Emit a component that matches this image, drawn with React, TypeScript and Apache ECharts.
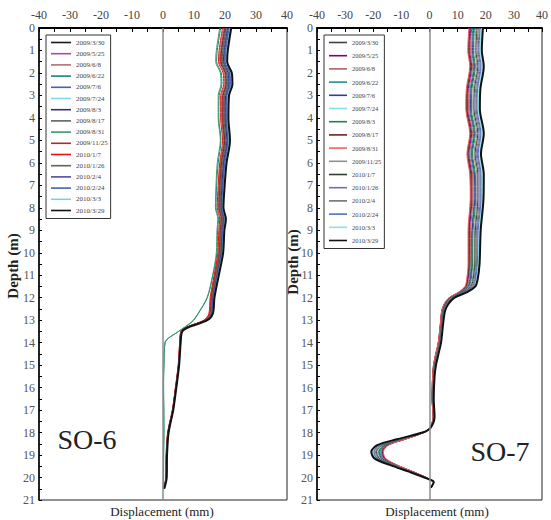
import React, { useEffect, useRef } from "react";
import * as echarts from "echarts";

// Survey dates (one profile per date, same dates for both boreholes)
const surveyDates = [
  "2009/3/30", "2009/5/25", "2009/6/8", "2009/6/22", "2009/7/6", "2009/7/24",
  "2009/8/3", "2009/8/17", "2009/8/31", "2009/11/25", "2010/1/7", "2010/1/26",
  "2010/2/4", "2010/2/24", "2010/3/3", "2010/3/29",
];

// ---- SO-6 inclinometer ----
const so6Depths = [0, 1, 1.5, 2, 2.5, 3, 4, 5, 6, 7, 8, 8.5, 9, 10, 11, 12, 12.7, 13.0, 13.3, 13.5, 14, 15, 16, 17, 18, 19, 20, 20.5];

// displacement (mm) at each depth of so6Depths, one row per survey date
const so6Displacement = [
  [20.0, 18.9, 18.7, 20.2, 20.4, 19.4, 19.3, 19.9, 18.9, 18.4, 18.1, 18.9, 18.5, 18.2, 16.9, 15.6, 15.2, 13.5, 7.9, 5.9, 5.5, 5.0, 4.1, 3.1, 1.6, 1.1, 1.0, 0.2],
  [20.5, 19.4, 19.2, 20.7, 20.9, 19.9, 19.8, 20.3, 19.3, 18.8, 18.5, 19.3, 18.8, 18.5, 17.2, 15.9, 15.4, 13.7, 8.1, 6.0, 5.5, 5.1, 4.2, 3.2, 1.7, 1.2, 1.1, 0.3],
  [19.5, 18.4, 18.2, 19.7, 19.9, 18.9, 18.9, 19.5, 18.5, 18.0, 17.8, 18.6, 18.2, 17.9, 16.6, 15.4, 15.0, 13.3, 7.8, 5.8, 5.4, 4.9, 4.0, 3.0, 1.5, 1.0, 0.9, 0.2],
  [18.6, 17.5, 17.3, 18.8, 19.0, 18.1, 18.0, 18.7, 17.8, 17.3, 17.1, 17.9, 17.6, 17.4, 16.1, 14.3, 11.4, 9.9, 7.2, 5.0, 0.7, 0.3, 0.2, 0.3, 0.3, 0.2, 0.2, 0.1],
  [21.0, 19.9, 19.7, 21.2, 21.4, 20.4, 20.2, 20.8, 19.7, 19.2, 18.8, 19.6, 19.2, 18.8, 17.5, 16.1, 15.7, 13.9, 8.2, 6.1, 5.6, 5.1, 4.2, 3.2, 1.7, 1.2, 1.1, 0.3],
  [21.5, 20.4, 20.2, 21.7, 21.9, 20.8, 20.7, 21.2, 20.1, 19.5, 19.2, 20.0, 19.5, 19.1, 17.7, 16.4, 15.9, 14.1, 8.4, 6.1, 5.6, 5.2, 4.3, 3.3, 1.8, 1.3, 1.2, 0.4],
  [20.8, 19.7, 19.5, 21.0, 21.2, 20.2, 20.0, 20.6, 19.5, 19.0, 18.7, 19.5, 19.0, 18.7, 17.3, 16.0, 15.6, 13.8, 8.1, 6.0, 5.6, 5.1, 4.2, 3.2, 1.7, 1.2, 1.1, 0.3],
  [20.2, 19.1, 18.9, 20.4, 20.6, 19.6, 19.5, 20.1, 19.1, 18.6, 18.2, 19.0, 18.6, 18.3, 17.0, 15.7, 15.3, 13.6, 8.0, 5.9, 5.5, 5.0, 4.1, 3.1, 1.6, 1.1, 1.0, 0.2],
  [18.3, 17.2, 17.0, 18.5, 18.7, 17.8, 17.8, 18.5, 17.5, 17.1, 16.9, 17.7, 17.4, 17.2, 16.0, 14.2, 11.3, 9.8, 7.1, 5.0, 0.6, 0.3, 0.1, 0.2, 0.3, 0.2, 0.1, 0.1],
  [19.8, 18.7, 18.5, 20.0, 20.2, 19.2, 19.1, 19.7, 18.7, 18.2, 18.0, 18.8, 18.4, 18.1, 16.8, 15.5, 15.1, 13.4, 7.8, 5.9, 5.4, 5.0, 4.1, 3.1, 1.6, 1.1, 1.0, 0.2],
  [19.2, 18.1, 17.9, 19.4, 19.6, 18.6, 18.6, 19.2, 18.3, 17.8, 17.5, 18.3, 18.0, 17.7, 16.5, 15.2, 14.8, 13.2, 7.7, 5.8, 5.4, 4.9, 4.0, 3.0, 1.5, 1.0, 0.9, 0.2],
  [20.4, 19.3, 19.1, 20.6, 20.8, 19.8, 19.7, 20.2, 19.2, 18.7, 18.4, 19.2, 18.8, 18.4, 17.1, 15.8, 15.4, 13.7, 8.0, 6.0, 5.5, 5.0, 4.1, 3.1, 1.6, 1.1, 1.0, 0.2],
  [21.2, 20.1, 19.9, 21.4, 21.6, 20.5, 20.4, 20.9, 19.9, 19.3, 18.9, 19.7, 19.3, 18.9, 17.6, 16.2, 15.7, 14.0, 8.3, 6.1, 5.6, 5.1, 4.2, 3.2, 1.7, 1.2, 1.1, 0.3],
  [21.4, 20.3, 20.1, 21.6, 21.8, 20.7, 20.6, 21.1, 20.0, 19.5, 19.1, 19.9, 19.4, 19.0, 17.7, 16.3, 15.8, 14.1, 8.3, 6.1, 5.6, 5.1, 4.2, 3.2, 1.7, 1.2, 1.1, 0.3],
  [21.7, 20.6, 20.4, 21.9, 22.1, 21.0, 20.8, 21.3, 20.3, 19.7, 19.3, 20.1, 19.6, 19.2, 17.8, 16.5, 16.0, 14.2, 8.4, 6.2, 5.7, 5.2, 4.3, 3.3, 1.8, 1.3, 1.2, 0.4],
  [22.0, 20.9, 20.7, 22.2, 22.4, 21.3, 21.1, 21.6, 20.5, 19.9, 19.5, 20.3, 19.8, 19.4, 18.0, 16.6, 16.1, 14.3, 8.5, 6.2, 5.7, 5.2, 4.3, 3.3, 1.8, 1.3, 1.2, 0.4],
];

const so6Colors = [
  "#1a1a1a", "#a050a0", "#b07070", "#1a8078", "#4060c0", "#80d8f0",
  "#303080", "#606060", "#3a9a68", "#a03030", "#ee1010", "#5f6650",
  "#504c9c", "#4062b0", "#80d0d0", "#111111",
];

// ---- SO-7 inclinometer ----
const so7Depths = [0, 1, 1.7, 2.7, 3.6, 4.7, 5.6, 6.5, 7.6, 9, 10.5, 11.2, 11.5, 11.75, 12, 12.3, 12.6, 13.1, 14, 14.5, 15, 15.5, 16.5, 17.3, 17.8, 18.0, 18.3, 18.55, 18.85, 19.15, 19.45, 19.75, 20.05, 20.2, 20.45];

const so7Displacement = [
  [14.4, 14.0, 14.7, 13.5, 13.3, 14.7, 13.7, 14.7, 14.8, 14.1, 14.0, 13.5, 12.9, 10.6, 7.1, 5.2, 4.4, 4.0, 3.2, 2.3, 1.5, 1.1, 0.9, 1.3, 0.1, -2.0, -8.8, -14.7, -16.7, -15.9, -11.6, -5.7, -0.3, 1.5, 0.5],
  [14.7, 14.3, 15.0, 13.8, 13.6, 15.0, 14.0, 15.0, 15.1, 14.3, 14.3, 13.7, 13.1, 10.8, 7.2, 5.3, 4.4, 4.0, 3.2, 2.3, 1.5, 1.2, 1.0, 1.4, 0.1, -2.1, -9.0, -15.0, -17.0, -16.2, -11.8, -5.8, -0.4, 1.5, 0.5],
  [15.0, 14.6, 15.3, 14.1, 13.9, 15.3, 14.3, 15.3, 15.4, 14.6, 14.5, 14.0, 13.3, 11.0, 7.3, 5.4, 4.5, 4.1, 3.3, 2.4, 1.6, 1.2, 1.0, 1.4, 0.1, -2.1, -9.2, -15.2, -17.3, -16.4, -11.9, -5.9, -0.4, 1.5, 0.5],
  [15.4, 15.0, 15.7, 14.5, 14.3, 15.7, 14.7, 15.7, 15.8, 15.0, 14.8, 14.3, 13.6, 11.2, 7.5, 5.5, 4.6, 4.2, 3.4, 2.5, 1.7, 1.3, 1.1, 1.4, 0.1, -2.1, -9.4, -15.5, -17.6, -16.7, -12.1, -6.0, -0.4, 1.5, 0.5],
  [15.7, 15.3, 16.0, 14.8, 14.6, 16.0, 15.0, 16.0, 16.1, 15.2, 15.1, 14.5, 13.8, 11.4, 7.6, 5.6, 4.7, 4.2, 3.4, 2.5, 1.7, 1.3, 1.1, 1.5, 0.1, -2.2, -9.6, -15.8, -17.9, -17.0, -12.3, -6.1, -0.5, 1.5, 0.5],
  [18.4, 18.0, 18.7, 17.5, 17.3, 18.7, 17.7, 18.7, 18.6, 17.7, 17.3, 16.6, 15.9, 13.0, 8.7, 6.4, 5.4, 4.8, 4.0, 3.1, 2.2, 1.7, 1.4, 1.7, 0.3, -2.4, -11.2, -17.9, -20.2, -19.1, -13.6, -6.9, -0.7, 1.5, 0.5],
  [16.0, 15.6, 16.3, 15.1, 14.9, 16.3, 15.3, 16.3, 16.4, 15.5, 15.3, 14.8, 14.1, 11.6, 7.7, 5.7, 4.8, 4.3, 3.5, 2.6, 1.8, 1.4, 1.1, 1.5, 0.2, -2.2, -9.8, -16.0, -18.1, -17.2, -12.4, -6.2, -0.5, 1.5, 0.5],
  [14.2, 13.8, 14.5, 13.3, 13.1, 14.5, 13.5, 14.5, 14.6, 13.9, 13.9, 13.4, 12.7, 10.5, 7.0, 5.2, 4.3, 3.9, 3.1, 2.2, 1.4, 1.1, 0.9, 1.3, 0.1, -2.0, -8.7, -14.6, -16.6, -15.8, -11.5, -5.7, -0.3, 1.5, 0.5],
  [14.0, 13.6, 14.3, 13.1, 12.9, 14.3, 13.3, 14.3, 14.5, 13.7, 13.7, 13.2, 12.6, 10.4, 6.9, 5.1, 4.3, 3.9, 3.1, 2.2, 1.4, 1.1, 0.9, 1.3, 0.1, -2.0, -8.6, -14.4, -16.4, -15.6, -11.4, -5.6, -0.3, 1.5, 0.5],
  [16.5, 16.1, 16.8, 15.6, 15.4, 16.8, 15.8, 16.8, 16.8, 16.0, 15.8, 15.2, 14.4, 11.9, 7.9, 5.9, 4.9, 4.4, 3.6, 2.7, 1.9, 1.4, 1.2, 1.6, 0.2, -2.3, -10.1, -16.4, -18.6, -17.6, -12.7, -6.4, -0.6, 1.5, 0.5],
  [16.9, 16.5, 17.2, 16.0, 15.8, 17.2, 16.2, 17.2, 17.2, 16.3, 16.1, 15.5, 14.7, 12.1, 8.1, 6.0, 5.0, 4.5, 3.7, 2.8, 1.9, 1.5, 1.2, 1.6, 0.2, -2.3, -10.3, -16.7, -18.9, -17.9, -12.9, -6.5, -0.6, 1.5, 0.5],
  [17.3, 16.9, 17.6, 16.4, 16.2, 17.6, 16.6, 17.6, 17.6, 16.7, 16.4, 15.8, 15.0, 12.4, 8.2, 6.1, 5.1, 4.6, 3.8, 2.9, 2.0, 1.5, 1.3, 1.6, 0.2, -2.3, -10.6, -17.0, -19.2, -18.2, -13.1, -6.6, -0.6, 1.5, 0.5],
  [17.7, 17.3, 18.0, 16.8, 16.6, 18.0, 17.0, 18.0, 18.0, 17.0, 16.7, 16.1, 15.3, 12.6, 8.4, 6.2, 5.2, 4.6, 3.8, 2.9, 2.1, 1.6, 1.3, 1.7, 0.2, -2.4, -10.8, -17.4, -19.6, -18.6, -13.3, -6.7, -0.7, 1.5, 0.5],
  [18.0, 17.6, 18.3, 17.1, 16.9, 18.3, 17.3, 18.3, 18.3, 17.3, 17.0, 16.3, 15.6, 12.8, 8.5, 6.3, 5.3, 4.7, 3.9, 3.0, 2.1, 1.7, 1.4, 1.7, 0.3, -2.4, -11.0, -17.6, -19.8, -18.8, -13.4, -6.8, -0.7, 1.5, 0.5],
  [18.7, 18.3, 19.0, 17.8, 17.6, 19.0, 18.0, 19.0, 18.9, 17.9, 17.6, 16.9, 16.1, 13.2, 8.8, 6.5, 5.4, 4.8, 4.0, 3.1, 2.2, 1.8, 1.5, 1.8, 0.3, -2.5, -11.4, -18.2, -20.4, -19.4, -13.8, -7.0, -0.8, 1.5, 0.5],
  [19.0, 18.6, 19.3, 18.1, 17.9, 19.3, 18.3, 19.3, 19.2, 18.2, 17.8, 17.1, 16.3, 13.4, 8.9, 6.6, 5.5, 4.9, 4.1, 3.2, 2.3, 1.8, 1.5, 1.8, 0.3, -2.5, -11.6, -18.4, -20.7, -19.6, -13.9, -7.1, -0.8, 1.5, 0.5],
];

const so7Colors = [
  "#404040", "#800080", "#b06060", "#209090", "#304090", "#80e0f0",
  "#208050", "#702020", "#f06060", "#909090", "#304030", "#7070b0",
  "#707070", "#5070c0", "#90e0e0", "#111111",
];

const SERIF = "Liberation Serif";

function wellSeries(well: string, depths: number[], rows: number[][], colors: string[], gi: number) {
  return rows.map((row, i) => ({
    name: `${well}|${surveyDates[i]}`,
    type: "line",
    xAxisIndex: gi,
    yAxisIndex: gi,
    data: row.map((v, j) => [v, depths[j]]),
    symbol: "none",
    smooth: 0.3,
    lineStyle: { color: colors[i], width: i === rows.length - 1 ? 2 : 1 },
    itemStyle: { color: colors[i] },
    emphasis: { disabled: true },
    z: i === rows.length - 1 ? 4 : 3,
    markLine:
      i === 0
        ? {
            silent: true,
            symbol: ["none", "none"],
            label: { show: false },
            emphasis: { disabled: true },
            lineStyle: { color: "#8c8c8c", width: 1.5, type: "solid" },
            data: [{ xAxis: 0 }],
          }
        : undefined,
  }));
}

function xAxisFor(gi: number) {
  return {
    type: "value",
    gridIndex: gi,
    position: "top",
    min: -40,
    max: 40,
    interval: 5,
    axisLine: { show: true, onZero: false, lineStyle: { color: "#000", width: 2 } },
    axisTick: { show: true, inside: true, length: 4, lineStyle: { color: "#000", width: 1 } },
    axisLabel: {
      formatter: (v: number) => (v % 10 === 0 ? String(v) : ""),
      fontFamily: SERIF,
      fontSize: 12,
      color: "#444",
      margin: 7,
    },
    splitLine: { show: false },
  };
}

function yAxisFor(gi: number) {
  return {
    type: "value",
    gridIndex: gi,
    inverse: true,
    min: 0,
    max: 21,
    interval: 0.5,
    axisLine: { show: true, onZero: false, lineStyle: { color: "#000", width: 1.5 } },
    axisTick: { show: true, inside: true, length: 3, lineStyle: { color: "#000", width: 1 } },
    axisLabel: {
      formatter: (v: number) => (Number.isInteger(v) ? String(v) : ""),
      fontFamily: SERIF,
      fontSize: 12,
      color: "#555",
      margin: 4,
    },
    splitLine: { show: false },
  };
}

function legendFor(well: string, left: number, gap: number, itemWidth: number, fontSize: number) {
  return {
    data: surveyDates.map((d) => `${well}|${d}`),
    formatter: (n: string) => n.split("|")[1],
    orient: "vertical",
    left,
    top: 35,
    icon: "rect",
    itemWidth,
    itemHeight: 1.6,
    itemGap: gap,
    padding: [3.5, 3, 4, 5],
    borderColor: "#333",
    borderWidth: 1,
    backgroundColor: "#fff",
    selectedMode: false,
    textStyle: { fontFamily: SERIF, fontSize, lineHeight: 8, color: "#444" },
  };
}

function textEl(text: string, x: number, y: number, font: string, rotate = 0) {
  return {
    type: "text",
    x,
    y,
    rotation: rotate,
    silent: true,
    style: {
      text,
      font,
      fill: "#222",
      align: "center",
      verticalAlign: "middle",
      textAlign: "center",
      textVerticalAlign: "middle",
    },
  };
}

export default function App() {
  const ref = useRef<HTMLDivElement>(null);

  useEffect(() => {
    if (!ref.current) return;
    const chart = echarts.init(ref.current, undefined, { renderer: "svg" });
    const frame = { show: true, borderColor: "#222", borderWidth: 1, backgroundColor: "transparent" };
    chart.setOption({
      animation: false,
      backgroundColor: "#fff",
      grid: [
        { left: 39, top: 28, width: 248, height: 472, ...frame },
        { left: 317, top: 28, width: 233, height: 472, ...frame },
      ],
      xAxis: [xAxisFor(0), xAxisFor(1)],
      yAxis: [yAxisFor(0), yAxisFor(1)],
      legend: [legendFor("SO-6", 46, 3.2, 20, 7), legendFor("SO-7", 324, 5.2, 18, 6.5)],
      series: [
        ...wellSeries("SO-6", so6Depths, so6Displacement, so6Colors, 0),
        ...wellSeries("SO-7", so7Depths, so7Displacement, so7Colors, 1),
      ],
      graphic: [
        textEl("Depth (m)", 13, 266, `bold 15px ${SERIF}`, Math.PI / 2),
        textEl("Depth (m)", 293, 262, `bold 15px ${SERIF}`, Math.PI / 2),
        textEl("Displacement (mm)", 162, 511, `13px ${SERIF}`),
        textEl("Displacement (mm)", 437, 511, `13px ${SERIF}`),
        textEl("SO-6", 87, 439, `28px ${SERIF}`),
        textEl("SO-7", 500, 451, `28px ${SERIF}`),
      ],
    });
    return () => chart.dispose();
  }, []);

  return (
    <div
      ref={ref}
      style={{ position: "absolute", left: 0, top: 0, width: 551, height: 520 }}
    />
  );
}
